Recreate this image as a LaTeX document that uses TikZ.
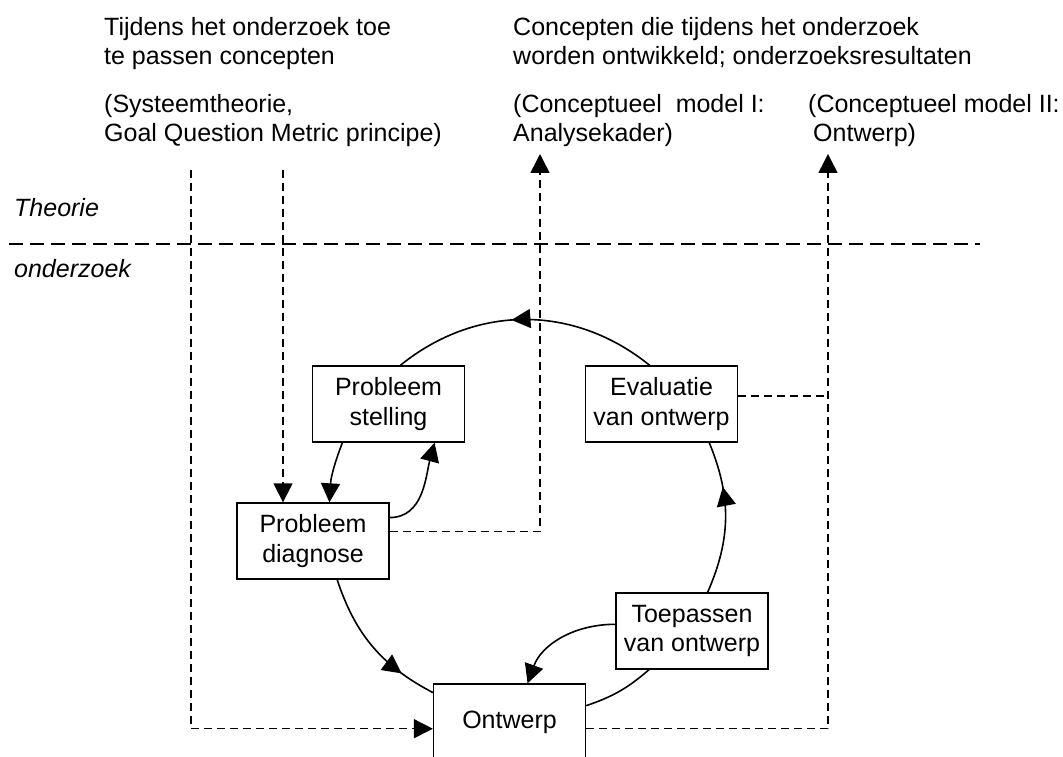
\documentclass[tikz,border=0pt]{standalone}
\usepackage{fontspec}
\setmainfont{Liberation Sans}
\usetikzlibrary{arrows.meta,decorations.markings}

\begin{document}
\begin{tikzpicture}[x=1pt,y=1pt,
  font=\fontsize{25}{29.5}\selectfont,
  box/.style={draw,line width=1.3pt,minimum width=152pt,minimum height=76pt,align=center,inner sep=0pt},
  lbl/.style={anchor=base west,align=left,inner sep=0pt},
  flow/.style={line width=1.6pt},
  link/.style={line width=1.5pt,dash pattern=on 8pt off 5pt},
  tip/.style={-{Triangle[length=19pt,width=19pt]}},
  midarrow/.style={postaction={decorate},decoration={markings,
    mark=at position #1 with {\arrow{Triangle[length=19pt,width=19pt]}}}}]
\useasboundingbox (0,0) rectangle (1063,756);

% concepts (anchored on the last line)
\node[lbl] (apply) at (104,691) {Tijdens het onderzoek toe\\te passen concepten};
\node[lbl] (applyex) at (104,614) {(Systeemtheorie,\\Goal Question Metric principe)};
\node[lbl] (dev) at (513,691) {Concepten die tijdens het onderzoek\\worden ontwikkeld; onderzoeksresultaten};
\node[lbl] (modA) at (513,614) {(Conceptueel\ \ model I:\\Analysekader)};
\node[lbl] (modB) at (808,614) {(Conceptueel model II:\\\hspace*{5pt}Ontwerp)};

\node[lbl,font=\fontsize{25}{29.5}\selectfont\itshape] (theo) at (14,539) {Theorie};
\node[lbl,font=\fontsize{25}{29.5}\selectfont\itshape] (ond) at (14,478) {onderzoek};
\draw [line width=1.5pt, dash pattern=on 14pt off 7pt] (9,512) -- (980,512);

% cycle
\node[box] (stel) at (388.5,352) {Probleem\\stelling};
\node[box] (eval) at (661.5,352) {Evaluatie\\van ontwerp};
\node[box] (diag) at (313,215) {Probleem\\diagnose};
\node[box] (toep) at (692,125) {Toepassen\\van ontwerp};
\node[box] (ontw) at (509.5,34) {Ontwerp};

\draw[flow,midarrow=0.55] (eval.107) to[bend right=39] (stel.73);
\draw[flow,tip] (stel.220) to[bend right=9] (diag.67);
\draw[flow,midarrow=0.76] (diag.-58) to[bend right=22] (ontw.159);
\draw[flow] (ontw.12) to[bend right=11] (toep.222);
\draw[flow,midarrow=0.7] (toep.68) to[bend right=23] (eval.-39);
\draw[flow,tip] (diag.17) to[out=0,in=-105] (stel.-40);
\draw[flow,tip] (toep.175) to[out=180,in=70] (ontw.65);

% dashed links theory <-> research
\coordinate (srcA) at (191,586);
\coordinate (srcB) at (283,586);
\coordinate (resA) at (540,602);
\coordinate (resB) at (828,602);
\draw[link,tip] (srcA) |- (ontw.185);
\draw[link,tip] (srcB) -- (srcB |- diag.north);
\draw[link,tip] (diag.7) -| (resA);
\draw[link,tip] (ontw.-5) -| (resB);
\draw[link] (eval.6) -- (eval.6 -| resB);
\end{tikzpicture}
\end{document}
